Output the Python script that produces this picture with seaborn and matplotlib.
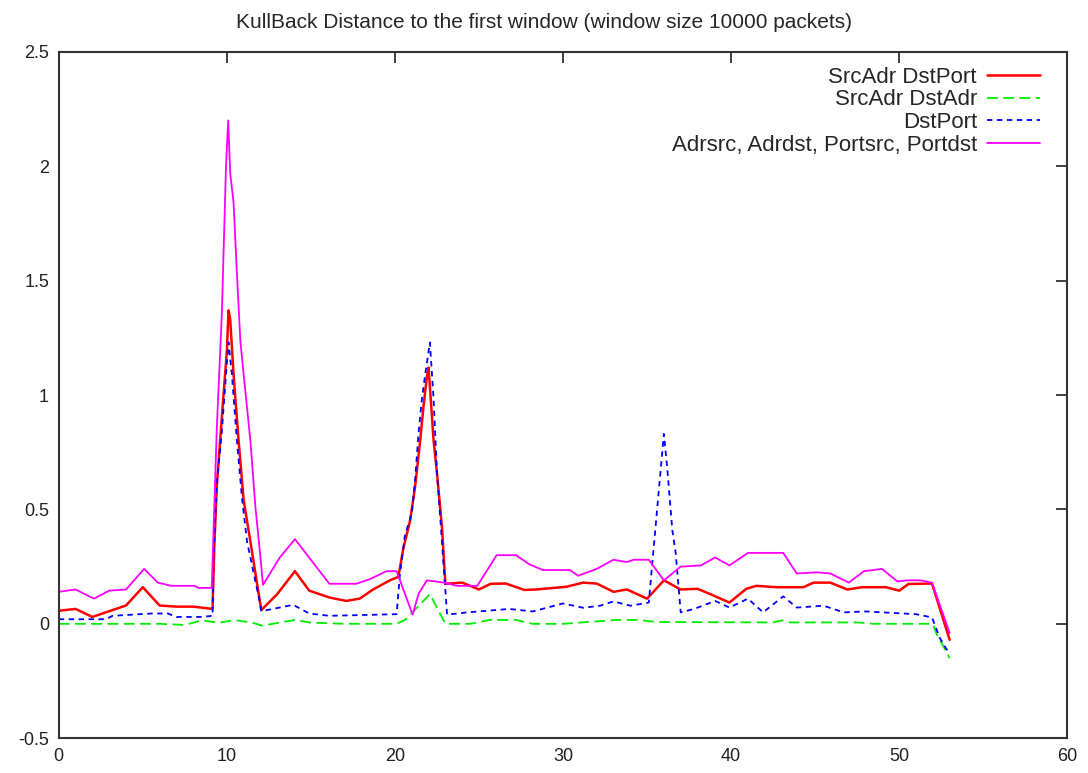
import numpy as np
import pandas as pd
import seaborn as sns
import matplotlib
matplotlib.use("Agg")
import matplotlib.pyplot as plt
from matplotlib.ticker import FuncFormatter

# values (x = window index)
red_x = [0, 1, 2, 3, 4, 5, 6, 7, 8, 9.15,
         9.25, 9.4, 9.6, 9.8, 10.0, 10.1, 10.2, 10.4, 10.7, 11.0,
         11.4, 11.7, 12.05, 13.0, 14.05, 14.9, 16.1, 17.1, 17.9, 18.7,
         19.7, 20.2, 20.5, 20.9, 21.2, 21.5, 21.7, 21.9, 22.0, 22.3,
         22.5, 22.8, 23.0, 24.0, 25.0, 25.7, 26.6, 27.7, 28.4, 30.2,
         31.2, 32.0, 33.0, 33.8, 35.0, 36.0, 37.0, 38.0, 38.75, 39.9,
         40.9, 41.5, 42.7, 44.3, 44.9, 45.9, 46.9, 47.8, 49.2, 50.0,
         50.55, 51.95, 53.0]
red_y = [0.057, 0.065, 0.03, 0.055, 0.08, 0.16, 0.08, 0.075, 0.075, 0.065,
         0.33, 0.60, 0.80, 1.0, 1.19, 1.37, 1.33, 1.09, 0.80, 0.54,
         0.36, 0.22, 0.06, 0.13, 0.23, 0.145, 0.115, 0.10, 0.11, 0.15,
         0.19, 0.205, 0.33, 0.45, 0.60, 0.80, 0.95, 1.08, 1.12, 0.80,
         0.66, 0.42, 0.175, 0.18, 0.15, 0.175, 0.176, 0.148, 0.15, 0.162,
         0.18, 0.176, 0.14, 0.15, 0.11, 0.19, 0.15, 0.153, 0.13, 0.093,
         0.153, 0.166, 0.16, 0.16, 0.18, 0.18, 0.15, 0.16, 0.16, 0.145,
         0.174, 0.176, -0.07]

green_x = [0, 2, 4, 6, 7.5, 8.5, 9.5, 10.5, 11.5, 12.1,
           14.05, 15, 17, 19, 20.1, 20.6, 21.3, 22.08, 22.5, 23.0,
           24.5, 25.65, 27.2, 28.2, 30, 33.2, 34.5, 35.5, 42.5, 43.0,
           43.5, 47.5, 48.5, 52.0, 52.2, 53.0]
green_y = [0.0, 0.0, 0.0, 0.0, -0.005, 0.015, 0.005, 0.016, 0.005, -0.008,
           0.017, 0.005, 0.0, 0.0, 0.0, 0.017, 0.07, 0.13, 0.07, 0.0,
           0.0, 0.017, 0.017, 0.0, 0.0, 0.017, 0.017, 0.008, 0.006, 0.015,
           0.006, 0.006, 0.0, 0.0, -0.04, -0.15]

blue_x = [0, 2.8, 3.2, 5.5, 6.5, 7.0, 8.5, 9.15, 9.2, 9.4,
          9.7, 9.95, 10.1, 10.3, 10.6, 10.9, 11.2, 11.6, 11.95, 12.05,
          13.95, 14.9, 16.1, 20.1, 20.3, 20.6, 21.0, 21.2, 21.4, 21.6,
          21.8, 22.08, 22.3, 22.5, 22.7, 22.9, 23.1, 24.3, 26.8, 28.2,
          30.0, 31.2, 32.2, 33.0, 34.0, 35.1, 36.0, 36.2, 36.5, 36.7,
          37.0, 37.8, 39.05, 39.9, 41.0, 41.9, 43.1, 43.9, 45.5, 46.7,
          48.0, 51.0, 51.95, 52.4, 52.8, 53.0]
blue_y = [0.02, 0.02, 0.035, 0.045, 0.045, 0.03, 0.03, 0.035, 0.29, 0.61,
          0.84, 1.09, 1.23, 1.09, 0.80, 0.55, 0.36, 0.22, 0.10, 0.055,
          0.083, 0.045, 0.035, 0.042, 0.22, 0.39, 0.48, 0.63, 0.83, 0.98,
          1.09, 1.23, 0.98, 0.66, 0.46, 0.25, 0.04, 0.05, 0.065, 0.054,
          0.089, 0.07, 0.079, 0.098, 0.079, 0.093, 0.83, 0.68, 0.41, 0.31,
          0.05, 0.065, 0.10, 0.071, 0.11, 0.05, 0.12, 0.071, 0.079, 0.05,
          0.054, 0.042, 0.028, -0.06, -0.11, -0.13]

magenta_x = [0, 1, 2.1, 3, 4, 5.08, 5.9, 6.7, 8.1, 8.3,
             9.1, 9.4, 9.7, 9.95, 10.08, 10.2, 10.4, 10.6, 10.8, 11.0,
             11.4, 11.7, 12.0, 12.15, 13.15, 14.05, 16.1, 17.7, 18.5, 19.5,
             20.1, 20.6, 21.05, 21.4, 21.9, 22.9, 23.7, 24.9, 26.05, 27.2,
             28.0, 28.8, 30.4, 30.9, 32.0, 33.0, 33.8, 34.2, 35.1, 36.0,
             37.0, 38.2, 39.05, 39.9, 41.0, 43.1, 43.9, 45.1, 45.9, 47.0,
             47.9, 48.97, 49.9, 50.5, 51.25, 51.95, 53.0]
magenta_y = [0.14, 0.15, 0.11, 0.145, 0.15, 0.24, 0.18, 0.166, 0.166, 0.157,
             0.157, 0.85, 1.35, 2.0, 2.2, 1.97, 1.84, 1.53, 1.24, 1.09,
             0.80, 0.51, 0.29, 0.17, 0.29, 0.37, 0.175, 0.175, 0.195, 0.23,
             0.23, 0.13, 0.04, 0.13, 0.19, 0.18, 0.166, 0.166, 0.30, 0.30,
             0.26, 0.235, 0.235, 0.21, 0.24, 0.28, 0.27, 0.28, 0.28, 0.19,
             0.25, 0.255, 0.29, 0.255, 0.31, 0.31, 0.22, 0.225, 0.22, 0.18,
             0.23, 0.24, 0.185, 0.19, 0.19, 0.18, -0.04]

labels = ["SrcAdr DstPort", "SrcAdr DstAdr", "DstPort",
          "Adrsrc, Adrdst, Portsrc, Portdst"]
colors = ["#ff0000", "#00ee00", "#0000ff", "#ff00ff"]

sns.set_style("white")
plt.rcParams["font.family"] = ["Liberation Sans", "DejaVu Sans"]

fig = plt.figure(figsize=(10.88, 7.73), dpi=100)
ax = fig.add_axes([0.054, 0.045, 0.927, 0.888])

series = [(red_x, red_y), (green_x, green_y), (blue_x, blue_y), (magenta_x, magenta_y)]
styles = [dict(linewidth=1.8, linestyle="-"),
          dict(linewidth=1.3, linestyle=(0, (6, 3))),
          dict(linewidth=1.3, linestyle=(0, (3, 2.5))),
          dict(linewidth=1.3, linestyle="-")]

for (xs, ys), lab, col, st in zip(series, labels, colors, styles):
    sns.lineplot(x=xs, y=ys, ax=ax, color=col, label=lab, estimator=None,
                 sort=False, **st)

ax.set_xlim(0, 60)
ax.set_ylim(-0.5, 2.5)
ax.set_xticks(np.arange(0, 61, 10))
ax.set_yticks(np.arange(-0.5, 2.51, 0.5))
ax.yaxis.set_major_formatter(FuncFormatter(lambda v, p: f"{v:g}"))
ax.tick_params(direction="in", top=True, right=True, length=8, width=1.2,
               labelsize=13, pad=7, colors="#222222")
for sp in ax.spines.values():
    sp.set_linewidth(1.5)
    sp.set_color("#333333")

ax.set_title("KullBack Distance to the first window (window size 10000 packets)",
             fontsize=15, pad=17, x=0.481)

leg = ax.legend(loc="upper right", bbox_to_anchor=(0.982, 0.991),
                frameon=False, markerfirst=False,
                fontsize=16, handlelength=2.4, handletextpad=0.45,
                labelspacing=0.07, borderaxespad=0.0)

fig.savefig("out.png", dpi=100)
